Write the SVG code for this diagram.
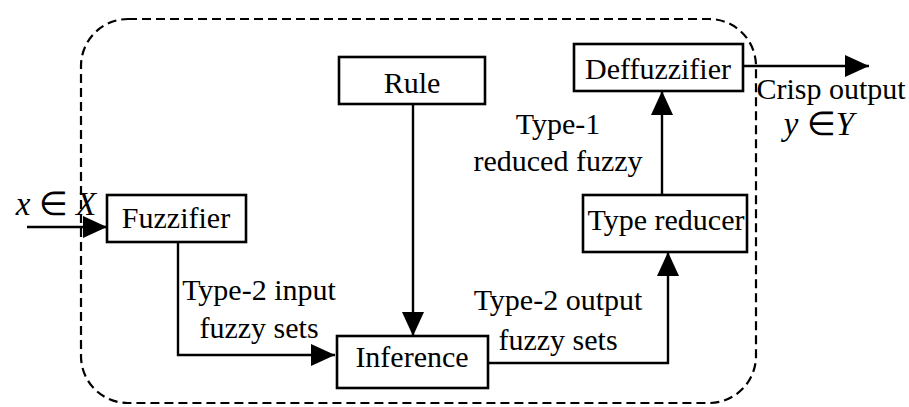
<svg xmlns="http://www.w3.org/2000/svg" width="909" height="407" viewBox="0 0 909 407">
<defs>
<marker id="ah" markerWidth="24" markerHeight="22" refX="24" refY="11" orient="auto" markerUnits="userSpaceOnUse">
<path d="M0,0 L24,11 L0,22 Z" fill="#000"/>
</marker>
</defs>
<rect x="81" y="19" width="675" height="384" rx="47" ry="47" fill="none" stroke="#000" stroke-width="2.2" stroke-dasharray="9 5"/>
<g id="connectors" fill="none" stroke="#000" stroke-width="2.4">
<path d="M27,227 L107,227" marker-end="url(#ah)"/>
<path d="M178,242 L178,355 L335,355" marker-end="url(#ah)"/>
<path d="M413,104 L413,336" marker-end="url(#ah)"/>
<path d="M488,363 L668,363 L668,252" marker-end="url(#ah)"/>
<path d="M662,195 L662,91" marker-end="url(#ah)"/>
<path d="M743,66 L869,66" marker-end="url(#ah)"/>
</g>
<g font-family="Liberation Serif" font-size="30" text-anchor="middle">
<g id="rule"><rect x="339" y="57" width="146" height="47" fill="#fff" stroke="#000" stroke-width="2.6"/><text x="412" y="93">Rule</text></g>
<g id="deffuzzifier"><rect x="574" y="44" width="169" height="47" fill="#fff" stroke="#000" stroke-width="2.6"/><text x="658" y="79">Deffuzzifier</text></g>
<g id="type-reducer"><rect x="583" y="195" width="164" height="57" fill="#fff" stroke="#000" stroke-width="2.6"/><text x="666" y="230">Type reducer</text></g>
<g id="fuzzifier"><rect x="107" y="195" width="139" height="47" fill="#fff" stroke="#000" stroke-width="2.6"/><text x="176" y="228">Fuzzifier</text></g>
<g id="inference"><rect x="337" y="336" width="151" height="52" fill="#fff" stroke="#000" stroke-width="2.6"/><text x="412" y="367">Inference</text></g>
<g id="labels">
<text x="56" y="215" font-size="33"><tspan font-style="italic">x</tspan> &#8712; <tspan font-style="italic">X</tspan></text>
<text x="831" y="99">Crisp output</text>
<text x="819" y="135" font-size="33"><tspan font-style="italic">y</tspan> &#8712;<tspan font-style="italic">Y</tspan></text>
<text x="558" y="134">Type-1</text>
<text x="558" y="171">reduced fuzzy</text>
<text x="259" y="300">Type-2 input</text>
<text x="259" y="338">fuzzy sets</text>
<text x="558" y="310">Type-2 output</text>
<text x="558" y="350">fuzzy sets</text>
</g>
</g>
</svg>
